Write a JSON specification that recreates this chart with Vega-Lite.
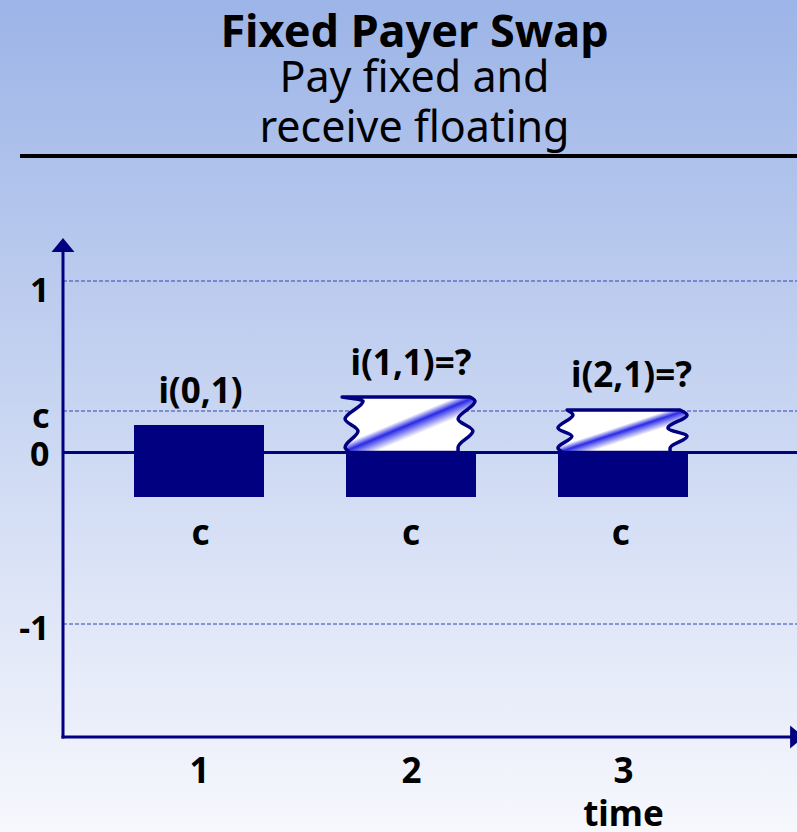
{
  "$schema": "https://vega.github.io/schema/vega-lite/v6.json",
  "width": 797,
  "height": 832,
  "autosize": {"type": "none"},
  "padding": 0,
  "background": "#c9d6f1",
  "config": {"view": {"stroke": null}, "scale": {"continuousPadding": 0}},
  "title": {
    "text": "Fixed Payer Swap",
    "subtitle": ["Pay fixed and", "receive floating"],
    "font": "Noto Sans",
    "fontSize": 45,
    "fontWeight": "bold",
    "color": "black",
    "subtitleFont": "Noto Sans",
    "subtitleFontSize": 43,
    "subtitleFontWeight": "normal",
    "subtitleColor": "black",
    "subtitleLineHeight": 50,
    "subtitlePadding": 2,
    "anchor": "middle",
    "frame": "group",
    "offset": -151,
    "dx": 16
  },
  "datasets": {
    "bg": [{"k": 1}],
    "grid": [{"v": 1}, {"v": 0.242}, {"v": -1}],
    "bars": [
      {"t": 1, "lo": -0.259, "hi": 0.16},
      {"t": 2, "lo": -0.259, "hi": 0},
      {"t": 3, "lo": -0.259, "hi": 0}
    ],
    "waves": [
      {"box": 2, "v": 0, "xl": 1.712, "xr": 2.222},
      {"box": 2, "v": 0.03, "xl": 1.689, "xr": 2.222},
      {"box": 2, "v": 0.125, "xl": 1.75, "xr": 2.292},
      {"box": 2, "v": 0.195, "xl": 1.689, "xr": 2.222},
      {"box": 2, "v": 0.3, "xl": 1.774, "xr": 2.302},
      {"box": 2, "v": 0.324, "xl": 1.675, "xr": 2.278},
      {"box": 3, "v": 0, "xl": 2.717, "xr": 3.222},
      {"box": 3, "v": 0.026, "xl": 2.693, "xr": 3.222},
      {"box": 3, "v": 0.095, "xl": 2.759, "xr": 3.302},
      {"box": 3, "v": 0.143, "xl": 2.693, "xr": 3.212},
      {"box": 3, "v": 0.219, "xl": 2.764, "xr": 3.302},
      {"box": 3, "v": 0.248, "xl": 2.736, "xr": 3.269}
    ],
    "labels": [
      {"t": 1.007, "v": 0.289, "label": "i(0,1)"},
      {"t": 2.0, "v": 0.452, "label": "i(1,1)=?"},
      {"t": 3.04, "v": 0.382, "label": "i(2,1)=?"}
    ],
    "cs": [
      {"t": 1.007, "v": -0.539, "label": "c"},
      {"t": 2.0, "v": -0.539, "label": "c"},
      {"t": 2.99, "v": -0.539, "label": "c"}
    ]
  },
  "layer": [
    {
      "data": {"name": "bg"},
      "mark": {
        "type": "rect",
        "fill": {
          "gradient": "linear",
          "x1": 0, "y1": 0, "x2": 0, "y2": 1,
          "stops": [
            {"offset": 0, "color": "#9cb4e7"},
            {"offset": 1, "color": "#f7f8fd"}
          ]
        }
      },
      "encoding": {
        "x": {
          "datum": 0.0613, "type": "quantitative",
          "scale": {"domain": [0.0613, 3.8208], "nice": false, "zero": false, "padding": 0},
          "axis": {
            "values": [1, 2, 3],
            "format": "d",
            "orient": "bottom",
            "offset": -95,
            "zindex": 1,
            "domain": false,
            "ticks": false,
            "tickSize": 0,
            "grid": false,
            "labelFont": "Noto Sans",
            "labelFontSize": 35,
            "labelFontWeight": "bold",
            "labelColor": "black",
            "labelPadding": 17,
            "labelFlush": false,
            "labelOverlap": false,
            "title": "time",
            "titleFont": "Noto Sans",
            "titleFontSize": 35,
            "titleFontWeight": "bold",
            "titleColor": "black",
            "titleX": 623,
            "titleY": 88,
            "titleAlign": "center",
            "titleBaseline": "alphabetic",
            "titleAngle": 0
          }
        },
        "x2": {"datum": 3.8208},
        "y": {
          "datum": 2.6385, "type": "quantitative",
          "scale": {"domain": [-2.2128, 2.6385], "nice": false, "zero": false, "padding": 0},
          "axis": {
            "values": [1, 0.242, 0, -1],
            "labelExpr": "datum.value == 1 ? '1' : datum.value == 0 ? '0' : datum.value == -1 ? '-1' : 'c'",
            "orient": "left",
            "offset": -63,
            "zindex": 1,
            "domain": false,
            "ticks": false,
            "tickSize": 0,
            "grid": false,
            "labelFont": "Noto Sans",
            "labelFontSize": 34,
            "labelFontWeight": "bold",
            "labelColor": "black",
            "labelPadding": 14,
            "labelBaseline": "middle",
            "labelOffset": {
              "condition": [
                {"test": "datum.value == 1", "value": 10},
                {"test": "datum.value == 0", "value": 3},
                {"test": "datum.value == -1", "value": 5}
              ],
              "value": 6
            },
            "labelFlush": false,
            "labelOverlap": false,
            "title": null
          }
        },
        "y2": {"datum": -2.2128}
      }
    },
    {
      "data": {"name": "bg"},
      "mark": {"type": "rule", "stroke": "black", "strokeWidth": 4},
      "encoding": {
        "x": {"datum": 0.1557, "type": "quantitative", "scale": {"domain": [0.0613, 3.8208], "nice": false, "zero": false, "padding": 0}},
        "x2": {"datum": 3.8208},
        "y": {"datum": 1.729, "type": "quantitative", "scale": {"domain": [-2.2128, 2.6385], "nice": false, "zero": false, "padding": 0}}
      }
    },
    {
      "data": {"name": "grid"},
      "mark": {"type": "rule", "stroke": "#3342b5", "strokeWidth": 1, "strokeDash": [4, 2]},
      "encoding": {
        "x": {"datum": 0.3585, "type": "quantitative", "scale": {"domain": [0.0613, 3.8208], "nice": false, "zero": false, "padding": 0}},
        "x2": {"datum": 3.8208},
        "y": {"field": "v", "type": "quantitative", "scale": {"domain": [-2.2128, 2.6385], "nice": false, "zero": false, "padding": 0}}
      }
    },
    {
      "data": {"name": "bg"},
      "mark": {"type": "rule", "stroke": "#000080", "strokeWidth": 3},
      "encoding": {
        "x": {"datum": 0.3585, "type": "quantitative", "scale": {"domain": [0.0613, 3.8208], "nice": false, "zero": false, "padding": 0}},
        "x2": {"datum": 3.8208},
        "y": {"datum": 0, "type": "quantitative", "scale": {"domain": [-2.2128, 2.6385], "nice": false, "zero": false, "padding": 0}}
      }
    },
    {
      "data": {"name": "bars"},
      "mark": {"type": "bar", "size": 130, "fill": "#000080"},
      "encoding": {
        "x": {"field": "t", "type": "quantitative", "scale": {"domain": [0.0613, 3.8208], "nice": false, "zero": false, "padding": 0}},
        "y": {"field": "lo", "type": "quantitative", "scale": {"domain": [-2.2128, 2.6385], "nice": false, "zero": false, "padding": 0}},
        "y2": {"field": "hi"}
      }
    },
    {
      "data": {"name": "waves"},
      "mark": {
        "type": "area",
        "orient": "horizontal",
        "interpolate": "monotone",
        "stroke": "#000080",
        "strokeWidth": 3.5,
        "strokeJoin": "round",
        "fill": {
          "gradient": "linear",
          "x1": 0, "y1": 0, "x2": 1, "y2": 1,
          "stops": [
            {"offset": 0, "color": "#ffffff"},
            {"offset": 0.43, "color": "#ffffff"},
            {"offset": 0.5, "color": "#2a2ae6"},
            {"offset": 0.62, "color": "#ffffff"},
            {"offset": 1, "color": "#ffffff"}
          ]
        }
      },
      "encoding": {
        "y": {"field": "v", "type": "quantitative", "scale": {"domain": [-2.2128, 2.6385], "nice": false, "zero": false, "padding": 0}},
        "x": {"field": "xl", "type": "quantitative", "scale": {"domain": [0.0613, 3.8208], "nice": false, "zero": false, "padding": 0}},
        "x2": {"field": "xr"},
        "detail": {"field": "box", "type": "nominal"}
      }
    },
    {
      "data": {"name": "bg"},
      "mark": {"type": "rule", "stroke": "#000080", "strokeWidth": 3, "strokeCap": "square"},
      "encoding": {
        "x": {"datum": 0.3585, "type": "quantitative", "scale": {"domain": [0.0613, 3.8208], "nice": false, "zero": false, "padding": 0}},
        "y": {"datum": 1.181, "type": "quantitative", "scale": {"domain": [-2.2128, 2.6385], "nice": false, "zero": false, "padding": 0}},
        "y2": {"datum": -1.659}
      }
    },
    {
      "data": {"name": "bg"},
      "mark": {"type": "rule", "stroke": "#000080", "strokeWidth": 3, "strokeCap": "square"},
      "encoding": {
        "x": {"datum": 0.3585, "type": "quantitative", "scale": {"domain": [0.0613, 3.8208], "nice": false, "zero": false, "padding": 0}},
        "x2": {"datum": 3.79},
        "y": {"datum": -1.659, "type": "quantitative", "scale": {"domain": [-2.2128, 2.6385], "nice": false, "zero": false, "padding": 0}}
      }
    },
    {
      "data": {"name": "bg"},
      "mark": {"type": "point", "shape": "M-1,0.6L1,0.6L0,-0.6Z", "size": 529, "filled": true, "fill": "#000080", "stroke": null, "opacity": 1},
      "encoding": {
        "x": {"datum": 0.3585, "type": "quantitative", "scale": {"domain": [0.0613, 3.8208], "nice": false, "zero": false, "padding": 0}},
        "y": {"datum": 1.21, "type": "quantitative", "scale": {"domain": [-2.2128, 2.6385], "nice": false, "zero": false, "padding": 0}}
      }
    },
    {
      "data": {"name": "bg"},
      "mark": {"type": "point", "shape": "M-0.6,-1L0.6,0L-0.6,1Z", "size": 529, "filled": true, "fill": "#000080", "stroke": null, "opacity": 1},
      "encoding": {
        "x": {"datum": 3.8208, "type": "quantitative", "scale": {"domain": [0.0613, 3.8208], "nice": false, "zero": false, "padding": 0}},
        "y": {"datum": -1.659, "type": "quantitative", "scale": {"domain": [-2.2128, 2.6385], "nice": false, "zero": false, "padding": 0}}
      }
    },
    {
      "data": {"name": "labels"},
      "mark": {"type": "text", "font": "Noto Sans", "fontSize": 35, "fontWeight": "bold", "color": "black", "align": "center", "baseline": "alphabetic"},
      "encoding": {
        "x": {"field": "t", "type": "quantitative", "scale": {"domain": [0.0613, 3.8208], "nice": false, "zero": false, "padding": 0}},
        "y": {"field": "v", "type": "quantitative", "scale": {"domain": [-2.2128, 2.6385], "nice": false, "zero": false, "padding": 0}},
        "text": {"field": "label"}
      }
    },
    {
      "data": {"name": "cs"},
      "mark": {"type": "text", "font": "Noto Sans", "fontSize": 35, "fontWeight": "bold", "color": "black", "align": "center", "baseline": "alphabetic"},
      "encoding": {
        "x": {"field": "t", "type": "quantitative", "scale": {"domain": [0.0613, 3.8208], "nice": false, "zero": false, "padding": 0}},
        "y": {"field": "v", "type": "quantitative", "scale": {"domain": [-2.2128, 2.6385], "nice": false, "zero": false, "padding": 0}},
        "text": {"field": "label"}
      }
    }
  ]
}
